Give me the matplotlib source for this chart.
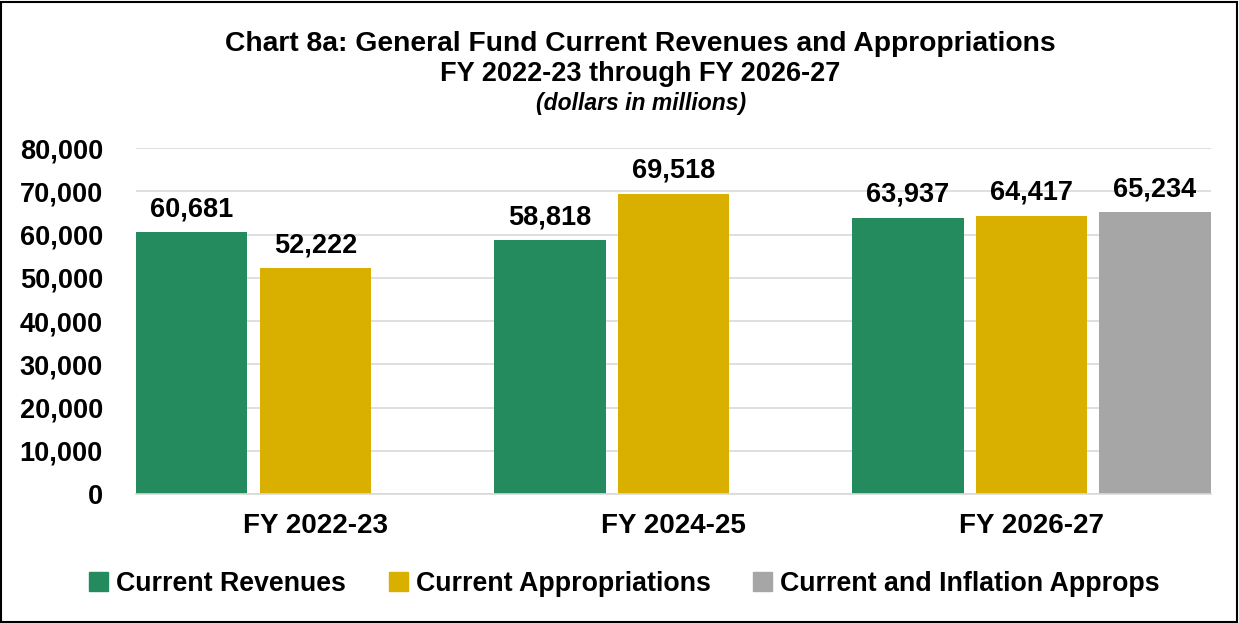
import matplotlib.pyplot as plt
from matplotlib.patches import Rectangle, Patch

plt.rcParams['font.family'] = ['Liberation Sans', 'DejaVu Sans']

years = ['FY 2022-23', 'FY 2024-25', 'FY 2026-27']
revenues = [60681, 58818, 63937]
approps = [52222, 69518, 64417]
inflation = [None, None, 65234]

series = [
    ('Current Revenues', revenues, '#238B5E'),
    ('Current Appropriations', approps, '#D9AF00'),
    ('Current and Inflation Approps', inflation, '#A6A6A6'),
]

fig = plt.figure(figsize=(12.39, 6.23), dpi=100)
ax = fig.add_axes([0.110, 0.207, 0.867, 0.555])

step = 0.345
width = 0.311
for i, (name, vals, col) in enumerate(series):
    for j, v in enumerate(vals):
        if v is None:
            continue
        x = j + (i - 1) * step
        ax.bar(x, v, width=width, color=col, zorder=2)
        ax.annotate(f'{v:,}', (x, v), textcoords='offset points', xytext=(0, 7),
                    ha='center', va='bottom', fontsize=19.5, fontweight='bold',
                    annotation_clip=False)

ax.set_xlim(-0.5, 2.5)
ax.set_ylim(0, 80000)
ax.set_yticks(range(0, 80001, 10000))
ax.set_yticklabels([f'{t:,}' for t in range(0, 80001, 10000)], fontsize=19.5, fontweight='bold')
ax.set_xticks(range(len(years)))
ax.set_xticklabels(years, fontsize=20, fontweight='bold')
ax.tick_params(length=0)
ax.tick_params(axis='x', pad=14)
ax.tick_params(axis='y', pad=24)
ax.grid(axis='y', color='#D9D9D9', linewidth=1.2, zorder=0)
for s in ['top', 'right', 'left']:
    ax.spines[s].set_visible(False)
ax.spines['bottom'].set_color('#D9D9D9')
ax.spines['bottom'].set_linewidth(1.2)

fig.text(0.517, 0.930, 'Chart 8a: General Fund Current Revenues and Appropriations',
         ha='center', va='center', fontsize=20.3, fontweight='bold')
fig.text(0.517, 0.882, 'FY 2022-23 through FY 2026-27',
         ha='center', va='center', fontsize=19.5, fontweight='bold')
fig.text(0.517, 0.834, '(dollars in millions)',
         ha='center', va='center', fontsize=16.5, fontweight='bold', style='italic')

handles = [Patch(color=c) for _, _, c in series]
fig.legend(handles, [n for n, _, _ in series], loc='center', bbox_to_anchor=(0.504, 0.063),
           ncol=3, frameon=False, prop={'weight': 'bold', 'size': 19.3},
           handlelength=0.7, handleheight=0.7, handletextpad=0.3, columnspacing=1.6)

fig.patches.append(Rectangle((0.001, 0.002), 0.997, 0.995, transform=fig.transFigure,
                             fill=False, edgecolor='black', linewidth=1.5))

fig.savefig('out.png', dpi=100)
